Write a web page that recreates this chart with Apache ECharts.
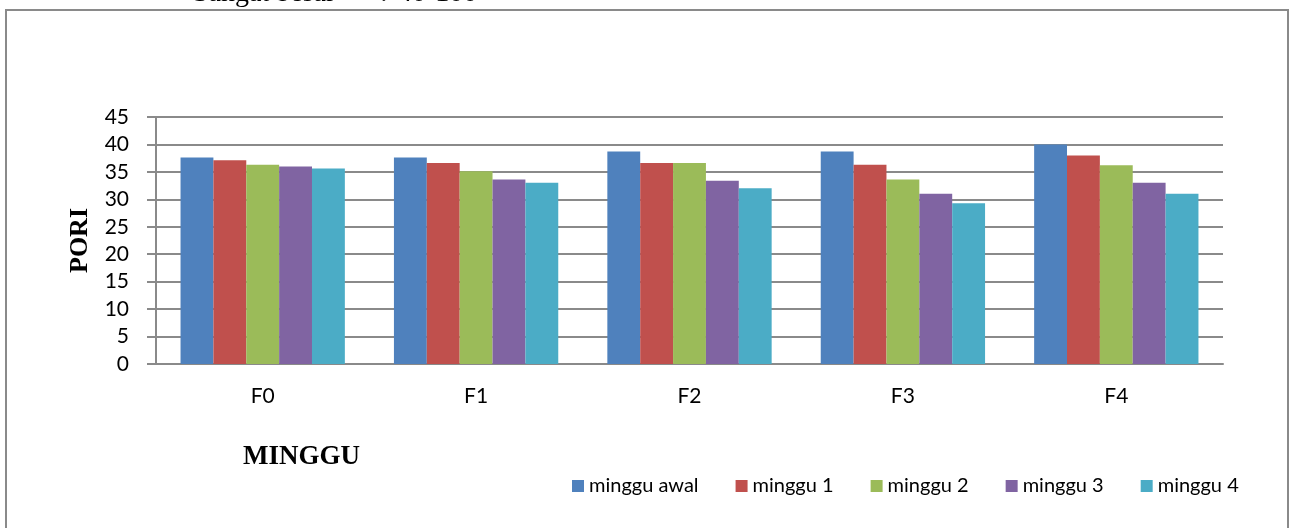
<!DOCTYPE html>
<html>
<head>
<meta charset="utf-8">
<script src="https://cdn.jsdelivr.net/npm/echarts@6/dist/echarts.min.js"></script>
<style>
html,body{margin:0;padding:0;background:#fff;}
#chart{width:1289px;height:528px;}
</style>
</head>
<body>
<div id="chart"></div>
<script>
var categories = ['F0', 'F1', 'F2', 'F3', 'F4'];
var seriesNames = ['minggu awal', 'minggu 1', 'minggu 2', 'minggu 3', 'minggu 4'];
var mingguAwal = [37.6, 37.6, 38.7, 38.7, 40.0];
var minggu1 = [37.1, 36.6, 36.6, 36.3, 38.0];
var minggu2 = [36.3, 35.1, 36.6, 33.6, 36.2];
var minggu3 = [36.0, 33.6, 33.4, 31.0, 33.0];
var minggu4 = [35.6, 33.0, 32.0, 29.3, 31.0];
var seriesValues = [mingguAwal, minggu1, minggu2, minggu3, minggu4];
var colors = ['#4F81BD', '#C0504D', '#9BBB59', '#8064A2', '#4BACC6'];
var yTicks = { min: 0, max: 45, interval: 5 };

var chart = echarts.init(document.getElementById('chart'));
var option = {
  animation: false,
  color: colors,
  grid: { left: 156, right: 66, top: 117, bottom: 164, containLabel: false },
  graphic: [
    { type: 'rect', shape: { x: 6, y: 10, width: 1282, height: 540 }, style: { fill: 'none', stroke: '#8a8a8a', lineWidth: 2 } },
    { type: 'text', left: 193, top: -20, style: { text: 'Sangat besar', font: '28px "Liberation Serif"', fill: '#000' } },
    { type: 'text', left: 380, top: -20, style: { text: ':', font: '28px "Liberation Serif"', fill: '#000' } },
    { type: 'text', left: 398, top: -20, style: { text: '40-100', font: '28px "Liberation Serif"', fill: '#000' } },
    { type: 'text', left: 243, top: 444, style: { text: 'MINGGU', font: 'bold 27px "Liberation Serif"', fill: '#000' } }
  ],
  legend: {
    data: seriesNames,
    left: 567, top: 471,
    itemWidth: 12, itemHeight: 12, itemGap: 37,
    icon: 'rect',
    textStyle: { fontFamily: 'Lato', fontSize: 20, color: '#000' }
  },
  xAxis: {
    type: 'category',
    data: categories,
    axisLine: { lineStyle: { color: '#8a8a8a', width: 2 } },
    axisTick: { show: false },
    axisLabel: { color: '#000', fontFamily: 'Lato', fontSize: 21, margin: 22 }
  },
  yAxis: {
    type: 'value',
    min: yTicks.min, max: yTicks.max, interval: yTicks.interval,
    name: 'PORI',
    nameLocation: 'middle',
    nameGap: 62,
    nameRotate: 90,
    nameTextStyle: { fontFamily: 'Liberation Serif', fontWeight: 'bold', fontSize: 26, color: '#000' },
    axisLine: { show: true, lineStyle: { color: '#8a8a8a', width: 2 } },
    axisTick: { show: true, length: 9, lineStyle: { color: '#8a8a8a', width: 2 } },
    splitLine: { lineStyle: { color: '#8a8a8a', width: 2 } },
    axisLabel: { color: '#000', fontFamily: 'Lato', fontSize: 21, margin: 27 }
  },
  series: seriesNames.map(function (n, i) {
    return {
      name: n, type: 'bar', data: seriesValues[i],
      barGap: '0%', barCategoryGap: '23%'
    };
  })
};
chart.setOption(option);
</script>
</body>
</html>
